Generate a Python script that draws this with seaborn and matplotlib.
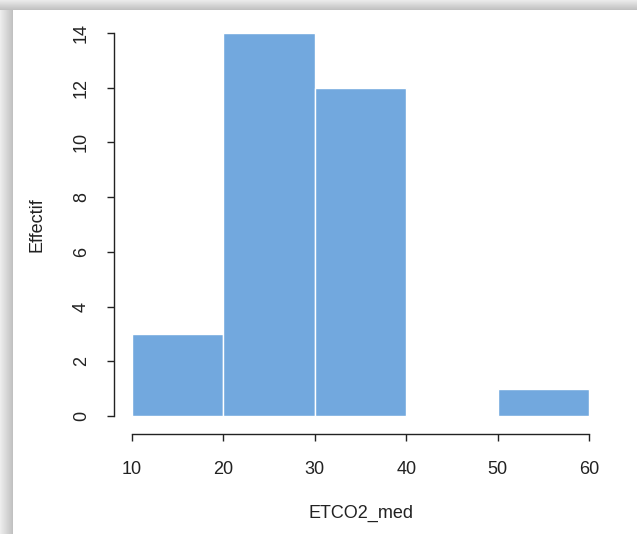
import numpy as np
import pandas as pd
import matplotlib
matplotlib.use("Agg")
import matplotlib.pyplot as plt
import seaborn as sns

# Histogram of ETCO2_med: class limits and counts per class
bin_edges = [10, 20, 30, 40, 50, 60]
bin_mids = [15, 25, 35, 45, 55]
counts = [3, 14, 12, 0, 1]
x_ticks = [10, 20, 30, 40, 50, 60]
y_ticks = [0, 2, 4, 6, 8, 10, 12, 14]

df = pd.DataFrame({"ETCO2_med": bin_mids, "n": counts})

sns.set_theme(style="white")
plt.rcParams["font.family"] = ["Liberation Sans", "DejaVu Sans"]

W, H, DPI = 637, 534, 100
fig = plt.figure(figsize=(W / DPI, H / DPI), dpi=DPI)

# soft grey drop-shadow frame around the white panel
bg = np.ones((H, W, 3))
top = 10
left = 13
for i in range(top):
    v = 0.92 - 0.16 * (i / (top - 1))
    bg[i, :, :] = v
for j in range(left):
    v = 0.93 - 0.17 * (j / (left - 1))
    bg[top:, j, :] = np.minimum(bg[top:, j, :], v)
fig.figimage(bg, xo=0, yo=0, origin="upper", zorder=-10)

# plot region in pixel coordinates (R-style 4% padding around data range)
ax_l, ax_r = 113.7, 607.3
ax_t, ax_b = 17.7, 431.3
ax = fig.add_axes([ax_l / W, 1 - ax_b / H, (ax_r - ax_l) / W, (ax_b - ax_t) / H])
ax.set_zorder(5)
ax.patch.set_alpha(0)

sns.histplot(data=df, x="ETCO2_med", weights="n", bins=bin_edges,
             color="#72A8DE", edgecolor="white", linewidth=1.0,
             alpha=1.0, ax=ax)

FS = 13
ink = "#222222"
ax.set_xlim(8, 62)
ax.set_ylim(-0.56, 14.56)
ax.set_xticks(x_ticks)
ax.set_yticks(y_ticks)

for s in ["top", "right"]:
    ax.spines[s].set_visible(False)
ax.spines["left"].set_bounds(0, 14)
ax.spines["bottom"].set_bounds(10, 60)
ax.spines["bottom"].set_position(("outward", 2))
for s in ["left", "bottom"]:
    ax.spines[s].set_color(ink)
    ax.spines[s].set_linewidth(1.0)
ax.tick_params(axis="both", which="major", length=5, width=1.0,
               color=ink, labelcolor=ink, labelsize=FS,
               direction="out", bottom=True, left=True)
ax.tick_params(axis="x", pad=14.5)
ax.tick_params(axis="y", pad=12, labelrotation=90)
for lab in ax.get_yticklabels():
    lab.set_va("center")

ax.set_xlabel("ETCO2_med", fontsize=FS, color=ink)
ax.set_ylabel("Effectif", fontsize=FS, color=ink)
ax.xaxis.set_label_coords(0.5, -0.178)
ax.yaxis.set_label_coords(-0.138, 0.5)

fig.savefig("out.png", dpi=DPI)
